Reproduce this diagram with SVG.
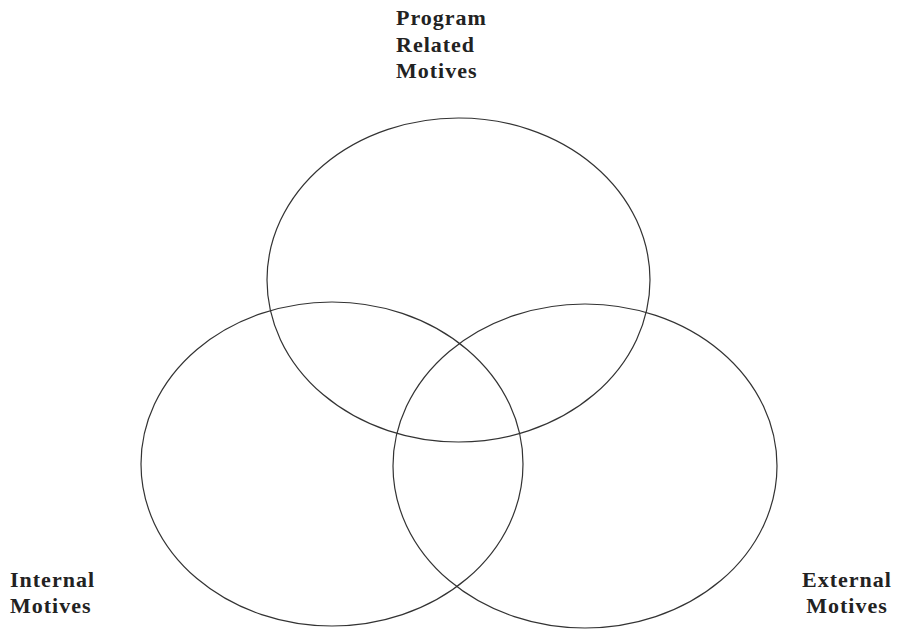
<svg xmlns="http://www.w3.org/2000/svg" width="898" height="631" viewBox="0 0 898 631">
<style>
.c{fill:none;stroke:#333;stroke-width:1.2}
.t{font-family:"Liberation Serif",serif;font-weight:bold;font-size:22px;fill:#222;letter-spacing:1px}
</style>
<rect width="898" height="631" fill="#fff"/>
<g id="program">
<ellipse class="c" cx="458.5" cy="280" rx="191.5" ry="162"/>
<text class="t" x="396" y="25">Program</text>
<text class="t" x="396" y="51.5">Related</text>
<text class="t" x="396" y="78">Motives</text>
</g>
<g id="internal">
<ellipse class="c" cx="332" cy="464" rx="191" ry="162"/>
<text class="t" x="10" y="587">Internal</text>
<text class="t" x="10" y="613">Motives</text>
</g>
<g id="external">
<ellipse class="c" cx="585" cy="466" rx="192" ry="162"/>
<text class="t" x="847" y="587" text-anchor="middle">External</text>
<text class="t" x="847" y="613" text-anchor="middle">Motives</text>
</g>
<g id="connectors"/>
</svg>
